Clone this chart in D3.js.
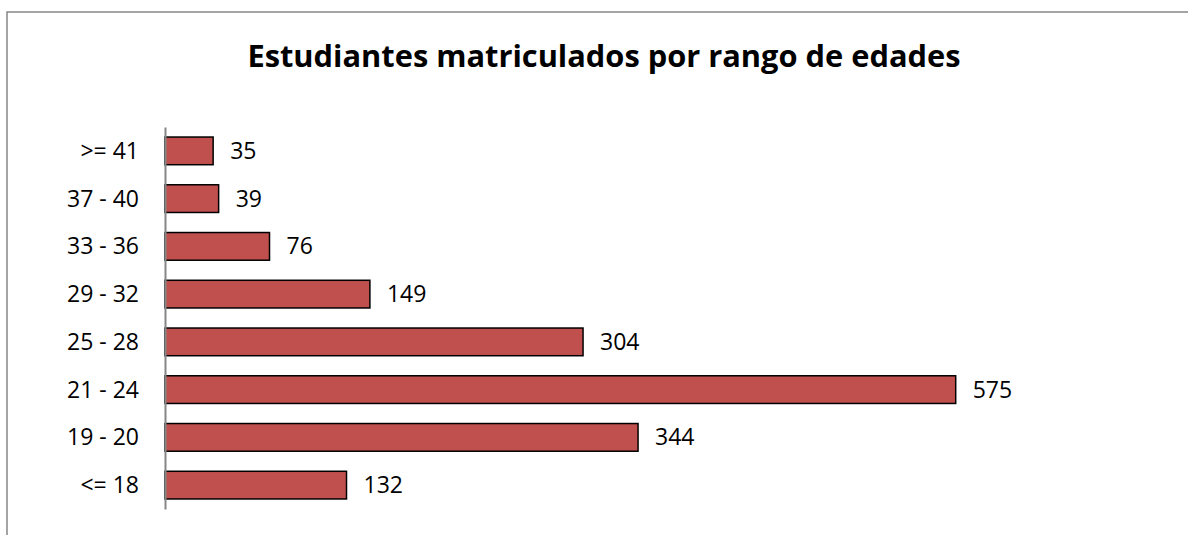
<!DOCTYPE html>
<html>
<head>
<meta charset="utf-8">
<script src="https://cdn.jsdelivr.net/npm/d3@7"></script>
<style>
  body { margin: 0; background: #fff; }
  text { font-family: "Open Sans", "Noto Sans", sans-serif; fill: #000; }
</style>
</head>
<body>
<div id="chart"></div>
<script>
// Age ranges (top to bottom) and enrolled students
const categories = [">= 41", "37 - 40", "33 - 36", "29 - 32", "25 - 28", "21 - 24", "19 - 20", "<= 18"];
const values = [35, 39, 76, 149, 304, 575, 344, 132];
const title = "Estudiantes matriculados por rango de edades";

const W = 1188, H = 535;
const margin = { top: 127, left: 165, bottom: 26 };
const plotW = 790.7;

const svg = d3.select("#chart")
    .append("svg")
    .attr("width", W)
    .attr("height", H);

// Chart frame (only top and left edges visible)
svg.append("rect")
    .attr("x", 7)
    .attr("y", 12)
    .attr("width", W)
    .attr("height", H)
    .attr("fill", "none")
    .attr("stroke", "#868686")
    .attr("stroke-width", 1.5);

// Title
svg.append("text")
    .attr("x", 604)
    .attr("y", 67)
    .style("text-anchor", "middle")
    .style("font-weight", "bold")
    .style("font-size", "30.8px")
    .text(title);

// Scales
const x = d3.scaleLinear()
    .domain([0, 575])
    .range([margin.left, margin.left + plotW]);

const y = d3.scaleBand()
    .domain(categories)
    .range([margin.top, H - margin.bottom])
    .paddingInner(0.42)
    .paddingOuter(0.21);

// Bars
svg.selectAll(".bar")
    .data(categories)
    .join("rect")
    .attr("class", "bar")
    .attr("x", x(0))
    .attr("y", d => y(d))
    .attr("width", (d, i) => x(values[i]) - x(0))
    .attr("height", y.bandwidth())
    .attr("fill", "#C0504D")
    .attr("stroke", "#000")
    .attr("stroke-width", 1.5);

// Category axis
const axis = svg.append("g")
    .attr("transform", `translate(${margin.left},0)`)
    .call(d3.axisLeft(y).tickSize(0).tickPadding(26));
axis.select(".domain")
    .attr("stroke", "#868686")
    .attr("stroke-width", 2);
axis.selectAll(".tick text")
    .style("font-family", "'Open Sans', 'Noto Sans', sans-serif")
    .style("font-size", "23px")
    .attr("dy", "0.35em");

// Value labels
svg.selectAll(".value")
    .data(categories)
    .join("text")
    .attr("class", "value")
    .attr("x", (d, i) => x(values[i]) + 17)
    .attr("y", d => y(d) + y.bandwidth() / 2)
    .attr("dy", "0.35em")
    .style("font-size", "23px")
    .text((d, i) => values[i]);
</script>
</body>
</html>
